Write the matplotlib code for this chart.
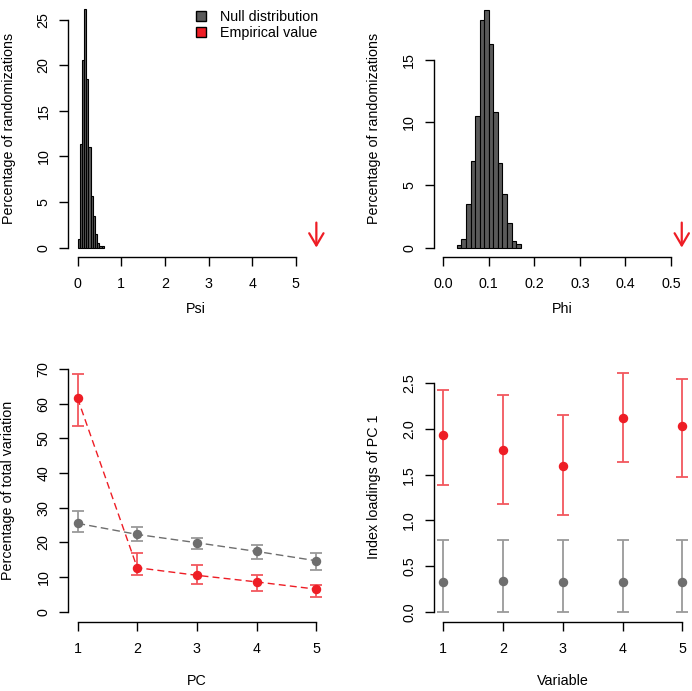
import numpy as np
import matplotlib
matplotlib.use("Agg")
import matplotlib.pyplot as plt
from matplotlib.patches import Patch

plt.rcParams['font.family'] = ['Liberation Sans', 'DejaVu Sans']
plt.rcParams['font.size'] = 10.3

# null distribution of Psi (percent of randomizations per bin)
psi_edges = [0.0, 0.05, 0.10, 0.15, 0.20, 0.25, 0.30, 0.35, 0.40, 0.45, 0.50, 0.55, 0.60]
psi_pct = [0.9, 11.4, 20.6, 26.2, 18.5, 11.0, 5.7, 3.5, 1.5, 0.5, 0.15, 0.2]
psi_emp = 5.47

# null distribution of Phi
phi_edges = [0.03, 0.04, 0.05, 0.06, 0.07, 0.08, 0.09, 0.10, 0.11, 0.12, 0.13, 0.14, 0.15, 0.16, 0.17]
phi_pct = [0.2, 0.7, 3.5, 6.9, 10.5, 18.2, 19.0, 16.3, 10.8, 6.8, 4.3, 2.0, 0.5, 0.3]
phi_emp = 0.5235

# percentage of total variation per PC
pcs = [1, 2, 3, 4, 5]
null_var = [25.5, 22.3, 19.9, 17.4, 14.7]
null_var_lo = [23.0, 20.5, 18.2, 15.2, 12.0]
null_var_hi = [29.0, 24.3, 21.4, 19.3, 16.8]
emp_var = [61.6, 12.7, 10.5, 8.6, 6.5]
emp_var_lo = [53.5, 10.6, 8.1, 6.1, 4.1]
emp_var_hi = [68.7, 16.8, 13.5, 10.6, 7.7]

# index loadings of PC 1
variables = [1, 2, 3, 4, 5]
null_load = [0.32, 0.335, 0.33, 0.325, 0.32]
null_load_lo = [0.0, 0.0, 0.0, 0.0, 0.0]
null_load_hi = [0.78, 0.79, 0.78, 0.79, 0.78]
emp_load = [1.93, 1.77, 1.60, 2.12, 2.03]
emp_load_lo = [1.39, 1.18, 1.06, 1.64, 1.47]
emp_load_hi = [2.43, 2.37, 2.15, 2.61, 2.55]

RED = '#EE1D25'
RED_BAR = '#F2575E'
GREY = '#6E6E6E'
GREY_BAR = '#9A9A9A'
HIST = '#5A5A5A'

W, H = 692, 691
fig = plt.figure(figsize=(W / 100, H / 100), dpi=100)


def add_ax(l, r, t, b):
    return fig.add_axes([l / W, 1 - b / H, (r - l) / W, (b - t) / H])


def rlim(lo, hi):
    d = (hi - lo) * 0.04
    return lo - d, hi + d


def r_style(ax, xb, yb):
    for s in ['top', 'right']:
        ax.spines[s].set_visible(False)
    ax.spines['left'].set_bounds(*yb)
    ax.spines['bottom'].set_bounds(*xb)
    for s in ['left', 'bottom']:
        ax.spines[s].set_linewidth(1.0)
    ax.tick_params(length=6.5, width=1.0)
    ax.tick_params(axis='x', pad=8)
    ax.tick_params(axis='y', pad=6, labelrotation=90)
    for lbl in ax.get_yticklabels():
        lbl.set_va('center')


def fig_label(x, y, s, rot=0):
    fig.text(x / W, 1 - y / H, s, rotation=rot, ha='center', va='center')


def arrow(ax, x):
    ax.annotate('', xy=(x, 0), xytext=(0, 18), textcoords='offset points',
                xycoords='data',
                arrowprops=dict(arrowstyle='->,head_length=0.85,head_width=0.5',
                                color=RED, lw=1.6, shrinkA=0, shrinkB=0))


# --- Psi ---
ax1 = add_ax(68, 325, 3, 257)
ax1.bar(psi_edges[:-1], psi_pct, width=np.diff(psi_edges), align='edge',
        color=HIST, edgecolor='black', linewidth=0.8)
arrow(ax1, psi_emp)
ax1.set_xlim(rlim(0, 5.45))
ax1.set_ylim(rlim(0, 25.8))
ax1.set_xticks([0, 1, 2, 3, 4, 5])
ax1.set_yticks([0, 5, 10, 15, 20, 25])
r_style(ax1, (0, 5), (0, 25))
ax1.legend(handles=[Patch(facecolor=HIST, edgecolor='black', label='Null distribution'),
                    Patch(facecolor=RED, edgecolor='black', label='Empirical value')],
           loc='upper left', bbox_to_anchor=(196 / W, 1 - 10 / H),
           bbox_transform=fig.transFigure, frameon=False, borderpad=0,
           handlelength=0.7, handleheight=0.7, handletextpad=1.0,
           labelspacing=0.15, borderaxespad=0)
fig_label(196, 309, 'Psi')
fig_label(9, 128, 'Percentage of randomizations', 90)

# --- Phi ---
ax2 = add_ax(433.7, 692, 3, 257)
ax2.bar(phi_edges[:-1], phi_pct, width=np.diff(phi_edges), align='edge',
        color=HIST, edgecolor='black', linewidth=0.8)
arrow(ax2, phi_emp)
ax2.set_xlim(rlim(0, 0.525))
ax2.set_ylim(rlim(0, 18.8))
ax2.set_xticks([0, 0.1, 0.2, 0.3, 0.4, 0.5])
ax2.set_xticklabels(['0.0', '0.1', '0.2', '0.3', '0.4', '0.5'])
ax2.set_yticks([0, 5, 10, 15])
r_style(ax2, (0, 0.5), (0, 15))
fig_label(562, 309, 'Phi')
fig_label(374, 128, 'Percentage of randomizations', 90)

# --- variation per PC ---
ax3 = add_ax(68, 325.7, 351.5, 621.7)
nv, ev = np.array(null_var), np.array(emp_var)
ax3.plot(pcs, null_var, color=GREY, lw=1.0, dashes=(5.5, 3))
ax3.plot(pcs, emp_var, color=RED, lw=1.0, dashes=(5, 3))
ax3.errorbar(pcs, nv, yerr=[nv - null_var_lo, np.array(null_var_hi) - nv], fmt='none',
             ecolor=GREY_BAR, elinewidth=1.3, capsize=4.5, capthick=1.3)
ax3.errorbar(pcs, ev, yerr=[ev - emp_var_lo, np.array(emp_var_hi) - ev], fmt='none',
             ecolor=RED_BAR, elinewidth=1.3, capsize=4.5, capthick=1.3)
ax3.plot(pcs, null_var, 'o', color=GREY, ms=5.8)
ax3.plot(pcs, emp_var, 'o', color=RED, ms=5.8)
ax3.set_xlim(rlim(1, 5))
ax3.set_ylim(rlim(0, 72.2))
ax3.set_xticks(pcs)
ax3.set_yticks(range(0, 71, 10))
r_style(ax3, (1, 5), (0, 70))
fig_label(197, 681, 'PC')
fig_label(8.5, 490, 'Percentage of total variation', 90)

# --- loadings of PC 1 ---
ax4 = add_ax(433.7, 692, 351.5, 621.7)
nl, el = np.array(null_load), np.array(emp_load)
ax4.errorbar(variables, nl, yerr=[nl - null_load_lo, np.array(null_load_hi) - nl], fmt='none',
             ecolor=GREY_BAR, elinewidth=1.3, capsize=4.5, capthick=1.3)
ax4.errorbar(variables, el, yerr=[el - emp_load_lo, np.array(emp_load_hi) - el], fmt='none',
             ecolor=RED_BAR, elinewidth=1.3, capsize=4.5, capthick=1.3)
ax4.plot(variables, null_load, 'o', color=GREY, ms=5.8)
ax4.plot(variables, emp_load, 'o', color=RED, ms=5.8)
ax4.set_xlim(rlim(1, 5))
ax4.set_ylim(rlim(0, 2.74))
ax4.set_xticks(variables)
ax4.set_yticks([0, 0.5, 1.0, 1.5, 2.0, 2.5])
ax4.set_yticklabels(['0.0', '0.5', '1.0', '1.5', '2.0', '2.5'])
r_style(ax4, (1, 5), (0, 2.5))
fig_label(563, 681, 'Variable')
fig_label(374, 487, 'Index loadings of PC 1', 90)

fig.savefig('out.png', dpi=100)
